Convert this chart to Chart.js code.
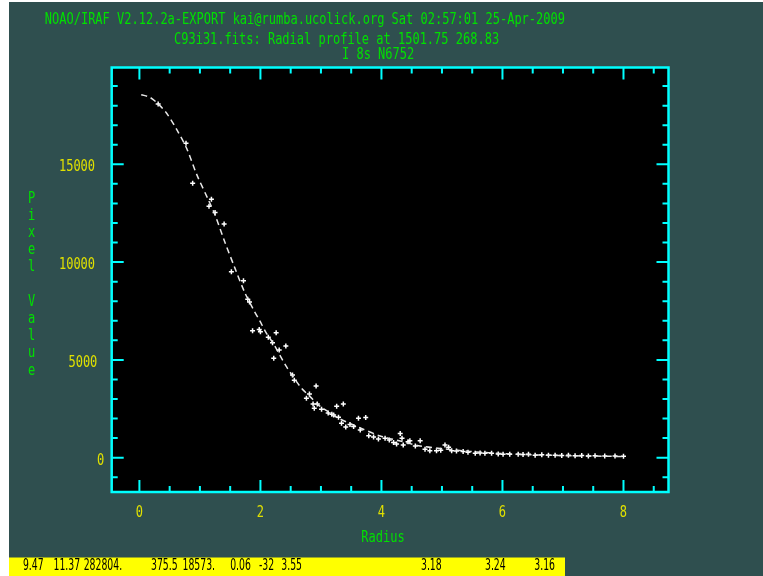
<!DOCTYPE html>
<html>
<head>
<meta charset="utf-8">
<script src="https://cdn.jsdelivr.net/npm/chart.js@4/dist/chart.umd.min.js"></script>
<style>
html,body{margin:0;padding:0;background:#ffffff;}
#c{display:block;}
</style>
</head>
<body>
<canvas id="c" width="763" height="576"></canvas>
<script>
// ---- header / labels ----
const titleLines = [
  "NOAO/IRAF V2.12.2a-EXPORT kai@rumba.ucolick.org Sat 02:57:01 25-Apr-2009",
  "C93i31.fits: Radial profile at 1501.75 268.83",
  "I 8s N6752"
];
const xAxisTitle = "Radius";
const yAxisTitle = "Pixel Value";
const statusFields = ["9.47", "11.37", "282804.", "375.5", "18573.", "0.06", "-32", "3.55", "3.18", "3.24", "3.16"];

// ---- ticks ----
const xMajorTicks = [0, 2, 4, 6, 8];
const xMinorTicks = [0.5, 1, 1.5, 2.5, 3, 3.5, 4.5, 5, 5.5, 6.5, 7, 7.5, 8.5];
const yMajorTicks = [0, 5000, 10000, 15000];
const yMinorTicks = [-1000, 1000, 2000, 3000, 4000, 6000, 7000, 8000, 9000, 11000, 12000, 13000, 14000, 16000, 17000, 18000, 19000];

// ---- measured pixels (radius, value) ----
const pointRadius = [0.31,0.77,0.88,1.15,1.19,1.25,1.40,1.52,1.72,1.79,1.82,1.87,1.98,2.00,2.13,2.20,2.22,2.26,2.31,2.42,2.53,2.56,2.76,2.81,2.87,2.89,2.92,2.94,3.01,3.12,3.18,3.21,3.26,3.29,3.34,3.37,3.41,3.48,3.54,3.62,3.65,3.74,3.79,3.87,3.95,4.06,4.13,4.20,4.25,4.31,4.34,4.36,4.44,4.47,4.56,4.64,4.72,4.80,4.91,4.98,5.05,5.11,5.16,5.24,5.35,5.43,5.55,5.63,5.71,5.82,5.93,6.01,6.12,6.26,6.34,6.43,6.54,6.65,6.76,6.87,6.98,7.09,7.20,7.31,7.42,7.53,7.69,7.86,8.00];
const pointValue  = [18085,16075,14030,12860,13210,12530,11950,9510,9040,8100,7960,6490,6560,6440,6160,5880,5080,6390,5510,5710,4230,3960,3040,3260,2750,2530,3670,2750,2480,2280,2220,2180,2630,2070,1760,2750,1570,1700,1590,2010,1420,2060,1120,1060,960,990,900,770,700,1230,990,650,820,860,600,860,430,360,360,380,650,530,360,340,310,280,225,240,220,220,190,180,180,170,160,170,130,150,120,130,110,120,100,110,90,100,80,90,70];

// ---- fitted profile ----
const fitRadius = [0.03,0.17,0.31,0.45,0.62,0.78,0.95,1.14,1.25,1.41,1.58,1.74,1.88,1.99,2.10,2.21,2.32,2.43,2.54,2.68,2.82,2.96,3.12,3.29,3.65,3.98,4.31,4.64,5.05,5.46,5.96,6.46,6.95,7.45,8.00];
const fitValue  = [18560,18430,18090,17610,16760,15820,14460,13180,12410,11040,9680,8450,7600,6990,6360,5850,5250,4650,4140,3550,3120,2690,2350,2020,1520,1110,850,600,445,320,215,150,110,85,60];

const C_BG = '#2f4f4f', C_CYAN = '#00ffff', C_GREEN = '#00e000', C_YELLOW = '#e0e000';

function condText(ctx, txt, x, y, align, color, size, sx, family) {
  ctx.save();
  ctx.translate(x, y);
  ctx.scale(sx || 0.75, 1);
  ctx.font = (size || 16) + 'px ' + (family || '"DejaVu Sans Mono", monospace');
  ctx.textAlign = align;
  ctx.textBaseline = 'middle';
  ctx.fillStyle = color;
  ctx.fillText(txt, 0, 0);
  ctx.restore();
}

const irafPlugin = {
  id: 'iraf',
  beforeDraw(chart) {
    const ctx = chart.ctx;
    ctx.save();
    ctx.fillStyle = '#ffffff';
    ctx.fillRect(0, 0, 763, 576);
    ctx.fillStyle = C_BG;
    ctx.fillRect(9, 2, 754, 574);
    const a = chart.chartArea;
    ctx.fillStyle = '#000000';
    ctx.fillRect(a.left, a.top, a.right - a.left, a.bottom - a.top);
    // status bar
    ctx.fillStyle = '#ffff00';
    ctx.fillRect(9, 557.5, 556, 18.5);
    ctx.restore();
  },
  afterDraw(chart) {
    const ctx = chart.ctx;
    const a = chart.chartArea;
    const xs = chart.scales.x, ys = chart.scales.y;
    ctx.save();
    ctx.strokeStyle = C_CYAN;
    ctx.lineWidth = 2.5;
    ctx.strokeRect(a.left, a.top, a.right - a.left, a.bottom - a.top);
    ctx.lineWidth = 2;
    ctx.beginPath();
    const tickX = (v, len) => {
      const p = xs.getPixelForValue(v);
      ctx.moveTo(p, a.bottom); ctx.lineTo(p, a.bottom - len);
      ctx.moveTo(p, a.top); ctx.lineTo(p, a.top + len);
    };
    const tickY = (v, len) => {
      const p = ys.getPixelForValue(v);
      ctx.moveTo(a.left, p); ctx.lineTo(a.left + len, p);
      ctx.moveTo(a.right, p); ctx.lineTo(a.right - len, p);
    };
    xMajorTicks.forEach(v => tickX(v, 12));
    xMinorTicks.forEach(v => tickX(v, 6));
    yMajorTicks.forEach(v => tickY(v, 12));
    yMinorTicks.forEach(v => tickY(v, 6));
    ctx.stroke();

    // titles
    condText(ctx, titleLines[0], 44.8, 19.5, 'left', C_GREEN);
    condText(ctx, titleLines[1], 174, 39.5, 'left', C_GREEN);
    condText(ctx, titleLines[2], 342, 55, 'left', C_GREEN);

    // tick labels
    xMajorTicks.forEach(v => condText(ctx, String(v), xs.getPixelForValue(v), 512.5, 'center', C_YELLOW));
    yMajorTicks.forEach(v => {
      const s = String(v);
      condText(ctx, s, 106.5 - s.length * 5.9, ys.getPixelForValue(v) + 3, 'center', C_YELLOW);
    });

    // axis titles
    condText(ctx, xAxisTitle, 383, 537.5, 'center', C_GREEN);
    const letters = yAxisTitle.split('');
    letters.forEach((ch, i) => {
      if (ch !== ' ') condText(ctx, ch, 31.7, 198.5 + i * 17.2, 'center', C_GREEN);
    });

    // status line
    const sx = [22.9, 53.5, 83.7, 151, 182.5, 230.2, 259, 281.3, 421, 485, 534.3];
    statusFields.forEach((f, i) => condText(ctx, f, sx[i], 566, 'left', '#000000', 15, 0.62, '"DejaVu Sans", sans-serif'));
    ctx.restore();
  }
};

const pts = pointRadius.map((r, i) => ({x: r, y: pointValue[i]}));
const fit = fitRadius.map((r, i) => ({x: r, y: fitValue[i]}));

new Chart(document.getElementById('c'), {
  type: 'scatter',
  data: {
    datasets: [
      {
        label: 'fit',
        data: fit,
        showLine: true,
        borderColor: '#e8e8e8',
        borderWidth: 1.5,
        borderDash: [6, 4],
        pointRadius: 0,
        tension: 0.3,
        fill: false
      },
      {
        label: 'pixels',
        data: pts,
        pointStyle: 'cross',
        pointRadius: 2.5,
        pointBorderWidth: 1.5,
        borderColor: '#ffffff',
        backgroundColor: '#ffffff'
      }
    ]
  },
  options: {
    responsive: false,
    animation: false,
    devicePixelRatio: 1,
    layout: {padding: {left: 0, right: 94.5, top: 67.5, bottom: 0}},
    plugins: {legend: {display: false}, tooltip: {enabled: false}, title: {display: false}},
    scales: {
      x: {
        type: 'linear', min: -0.458, max: 8.744,
        ticks: {display: false}, grid: {display: false}, border: {display: false},
        afterFit: s => { s.height = 84; }
      },
      y: {
        type: 'linear', min: -1755, max: 19950,
        ticks: {display: false}, grid: {display: false}, border: {display: false},
        afterFit: s => { s.width = 111.7; }
      }
    }
  },
  plugins: [irafPlugin]
});
</script>
</body>
</html>
